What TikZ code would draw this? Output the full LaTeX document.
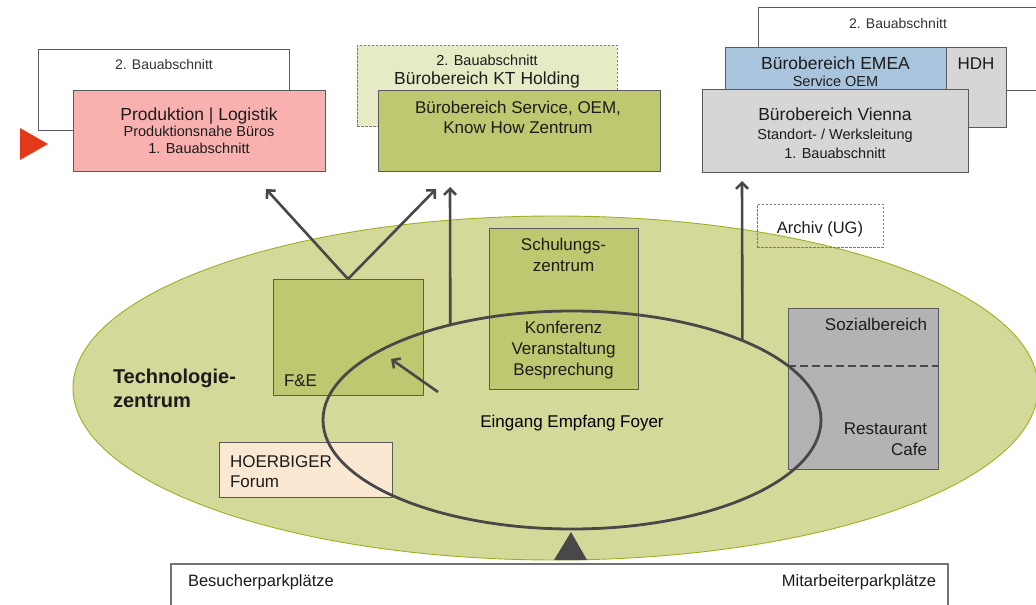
\documentclass[tikz,border=0pt]{standalone}
\usepackage{fontspec}
\setmainfont{Liberation Sans}
\usetikzlibrary{arrows.meta,shapes.geometric}

\definecolor{tzfill}{HTML}{D4D99A}
\definecolor{tzline}{HTML}{9DB024}
\definecolor{olive}{HTML}{BFC870}
\definecolor{olivelight}{HTML}{E7EBC5}
\definecolor{pinkbox}{HTML}{F8B1AF}
\definecolor{bluebox}{HTML}{A9C5DD}
\definecolor{lgray}{HTML}{D6D6D6}
\definecolor{mgray}{HTML}{B3B3B3}
\definecolor{cream}{HTML}{FAE8D3}
\definecolor{dark}{HTML}{484848}
\definecolor{boxline}{HTML}{5A5A5A}
\definecolor{marker}{HTML}{E2391B}
\definecolor{ink}{HTML}{1C1C1C}
\definecolor{softink}{HTML}{333333}

\newcommand\fsz[1]{\fontsize{#1}{#1}\selectfont}

% multi-line text nodes are placed at the baseline of their last line
\tikzset{
  box/.style={draw=boxline, line width=0.9pt, inner sep=0pt, outer sep=0pt, anchor=north west},
  dbox/.style={box, dash pattern=on 2.5pt off 1.5pt, draw=boxline!80},
  txt/.style={inner sep=0pt, outer sep=0pt, text=ink, anchor=base, align=center},
  arr/.style={draw=dark, line width=2.6pt, -{Straight Barb[length=6pt,width=12pt]}},
}

\begin{document}
\begin{tikzpicture}[x=1pt,y=-1pt]
\useasboundingbox (0,0) rectangle (1036,605);

% ---- upper row: office areas ----
\node[box, fill=white, minimum width=251pt, minimum height=81pt] (bauA) at (38,49) {};
\node[txt, text=softink, font=\fsz{14}] (bauAt) at (164,69) {2. Bauabschnitt};
\node[box, fill=pinkbox, minimum width=252pt, minimum height=81pt] (prod) at (73,90) {};
\node[txt, font=\fontsize{14.5}{16.5}\selectfont] (prodt) at (199,153)
  {{\fsz{17.5}Produktion | Logistik}\\Produktionsnahe Büros\\1. Bauabschnitt};
\fill[marker] (20,128) -- (48,144) -- (20,160) -- cycle;

\node[dbox, fill=olivelight, minimum width=260pt, minimum height=81pt] (kt) at (357,45) {};
\node[txt, font=\fontsize{14.5}{19}\selectfont] (ktt) at (487,84)
  {2. Bauabschnitt\\{\fsz{17.5}Bürobereich KT Holding}};
\node[box, fill=olive, minimum width=282pt, minimum height=81pt] (svc) at (378,90) {};
\node[txt, font=\fontsize{17}{20}\selectfont] (svct) at (518,133)
  {Bürobereich Service, OEM,\\Know How Zentrum};

\node[box, fill=white, minimum width=302pt, minimum height=83pt] (bauB) at (758,7) {};
\node[txt, text=softink, font=\fsz{14}] (bauBt) at (898,28) {2. Bauabschnitt};
\node[box, fill=lgray, minimum width=60pt, minimum height=80pt] (hdh) at (946,47) {};
\node[txt, font=\fsz{17}] (hdht) at (976,69) {HDH};
\node[box, fill=bluebox, minimum width=221pt, minimum height=80pt] (emea) at (725,47) {};
\node[txt, font=\fontsize{14.5}{17}\selectfont] (emeat) at (835.5,86)
  {{\fsz{17.5}Bürobereich EMEA}\\Service OEM};
\node[box, fill=lgray, minimum width=266pt, minimum height=83pt] (vie) at (702,89) {};
\node[txt, font=\fontsize{14.5}{19}\selectfont] (viet) at (835,158)
  {{\fsz{17.5}Bürobereich Vienna}\\Standort- / Werksleitung\\1. Bauabschnitt};

% ---- technology centre ----
\node[ellipse, draw=tzline, fill=tzfill, line width=0.9pt, minimum width=965pt,
      minimum height=344pt, inner sep=0pt, outer sep=0pt] (tz) at (555.5,388) {};
\node[txt, anchor=base west, align=left, font=\bfseries\fontsize{20}{24}\selectfont] (tzt)
  at (113,407) {Technologie-\\zentrum};

\node[dbox, minimum width=126pt, minimum height=43pt] (arch) at (757,204) {};
\node[txt, font=\fsz{16.5}] (archt) at (820,233) {Archiv (UG)};

\node[box, fill=olive, minimum width=149pt, minimum height=161pt] (schul) at (489,228) {};
\node[txt, font=\fontsize{17}{20.7}\selectfont] (schult) at (563.5,271) {Schulungs-\\zentrum};
\node[txt, font=\fontsize{17}{20.7}\selectfont] (konft) at (563.5,375)
  {Konferenz\\Veranstaltung\\Besprechung};

\node[box, fill=olive, minimum width=150pt, minimum height=116pt] (fe) at (273,279) {};
\node[txt, anchor=base west, font=\fsz{17}] (fet) at (284,386) {F\&E};

\node[box, fill=cream, minimum width=173pt, minimum height=55pt] (hoer) at (219,442) {};
\node[txt, anchor=base west, align=left, font=\fontsize{17}{20}\selectfont] (hoert)
  at (230,487) {HOERBIGER\\Forum};

\node[box, fill=mgray, minimum width=150pt, minimum height=161pt] (soz) at (788,308) {};
\draw[dark, line width=2.6pt, dash pattern=on 8pt off 4pt] (soz.west |- 0,366) -- (soz.east |- 0,366);
\node[txt, anchor=base east, font=\fsz{17}] (sozt) at (927,330) {Sozialbereich};
\node[txt, anchor=base east, align=right, font=\fontsize{17}{21}\selectfont] (restt)
  at (927,455) {Restaurant\\Cafe};

% entrance / foyer
\node[ellipse, draw=dark, line width=2.8pt, minimum width=498pt, minimum height=218pt,
      inner sep=0pt, outer sep=0pt] (foyer) at (572,420) {};
\node[txt, text=black, font=\fsz{17}] (foyert) at (572,427) {Eingang Empfang Foyer};

% ---- circulation arrows ----
\coordinate (tipA) at (266,189);
\coordinate (tipB) at (436,189);
\coordinate (tipC) at (450,187);
\coordinate (tipD) at (742,181);
\coordinate (feIn) at (391,359);
\coordinate (feFrom) at (438,392);
\draw[arr] (fe.north) -- (tipA);
\draw[arr] (fe.north) -- (tipB);
\draw[arr] (foyer.142.1) -- (tipC);
\draw[arr] (foyer.25.1) -- (tipD);
\draw[arr] (feFrom) -- (feIn);

% ---- parking ----
\fill[dark] (571,532) -- (587,560) -- (554,560) -- cycle;
\node[box, draw=boxline!85, line width=1.3pt, fill=white, minimum width=777pt, minimum height=70pt] (park) at (171,564) {};
\node[txt, anchor=base west, font=\fsz{16.5}] (parkL) at (188,586) {Besucherparkplätze};
\node[txt, anchor=base east, font=\fsz{16.5}] (parkR) at (936,586) {Mitarbeiterparkplätze};
\end{tikzpicture}
\end{document}
